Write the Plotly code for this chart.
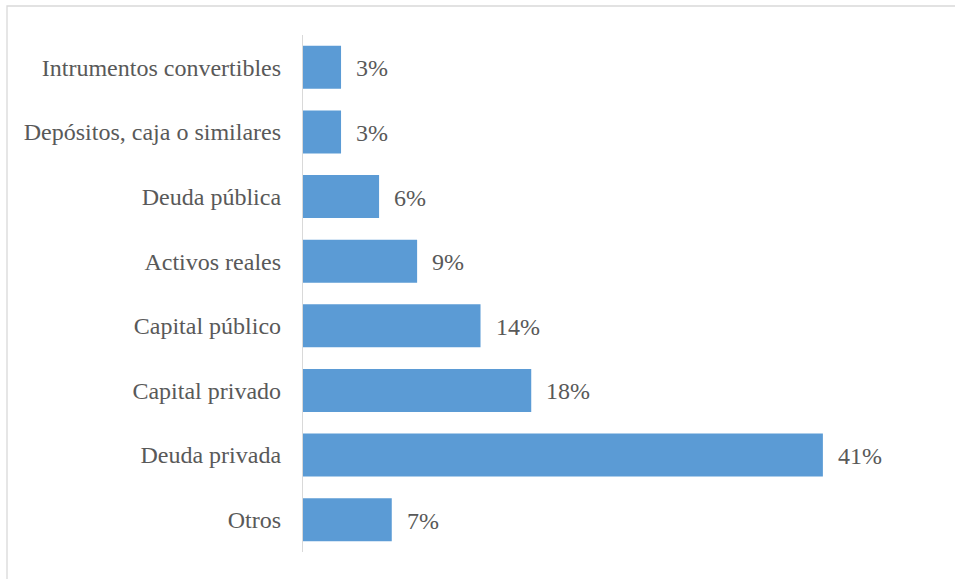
import plotly.graph_objects as go

# Asset classes, listed bottom to top as drawn on the y axis
categories = [
    "Otros",
    "Deuda privada",
    "Capital privado",
    "Capital público",
    "Activos reales",
    "Deuda pública",
    "Depósitos, caja o similares",
    "Intrumentos convertibles",
]
shares = [7, 41, 18, 14, 9, 6, 3, 3]
labels = [f"{v}%" for v in shares]

W, H = 955, 579
ML, MR, MT, MB = 303, 18, 35, 27
pw, ph = W - ML - MR, H - MT - MB

font_family = "Liberation Serif, Times New Roman, serif"
text_color = "#595959"
font_size = 24

fig = go.Figure(
    go.Bar(
        x=shares,
        y=categories,
        orientation="h",
        marker=dict(color="#5b9bd5", line=dict(width=0)),
        width=0.667,
        hoverinfo="skip",
    )
)

# Value labels just to the right of each bar
for cat, val, lab in zip(categories, shares, labels):
    fig.add_annotation(
        x=val, y=cat, text=lab, showarrow=False,
        xanchor="left", xshift=13, yshift=-1,
        font=dict(family=font_family, size=font_size, color=text_color),
    )

# Light frame around the chart area
fig.add_shape(
    type="rect", xref="paper", yref="paper",
    x0=(7 - ML) / pw, x1=(W + 20 - ML) / pw,
    y0=-(MB + 20) / ph, y1=(H - MB - 6) / ph,
    line=dict(color="#d9d9d9", width=1.3), fillcolor="rgba(0,0,0,0)",
    layer="below",
)

fig.update_layout(
    width=W, height=H,
    margin=dict(l=ML, r=MR, t=MT, b=MB),
    paper_bgcolor="white", plot_bgcolor="white",
    showlegend=False,
    bargap=0.333,
    xaxis=dict(range=[0, 50], visible=False, showgrid=False, zeroline=False),
    yaxis=dict(
        categoryorder="array", categoryarray=categories,
        range=[-0.5, len(categories) - 0.5],
        showline=True, linecolor="#d9d9d9", linewidth=1.3,
        showgrid=False, zeroline=False, ticks="",
        ticklabelstandoff=16,
        tickfont=dict(family=font_family, size=font_size, color=text_color),
    ),
)

fig.write_html("out.html")
